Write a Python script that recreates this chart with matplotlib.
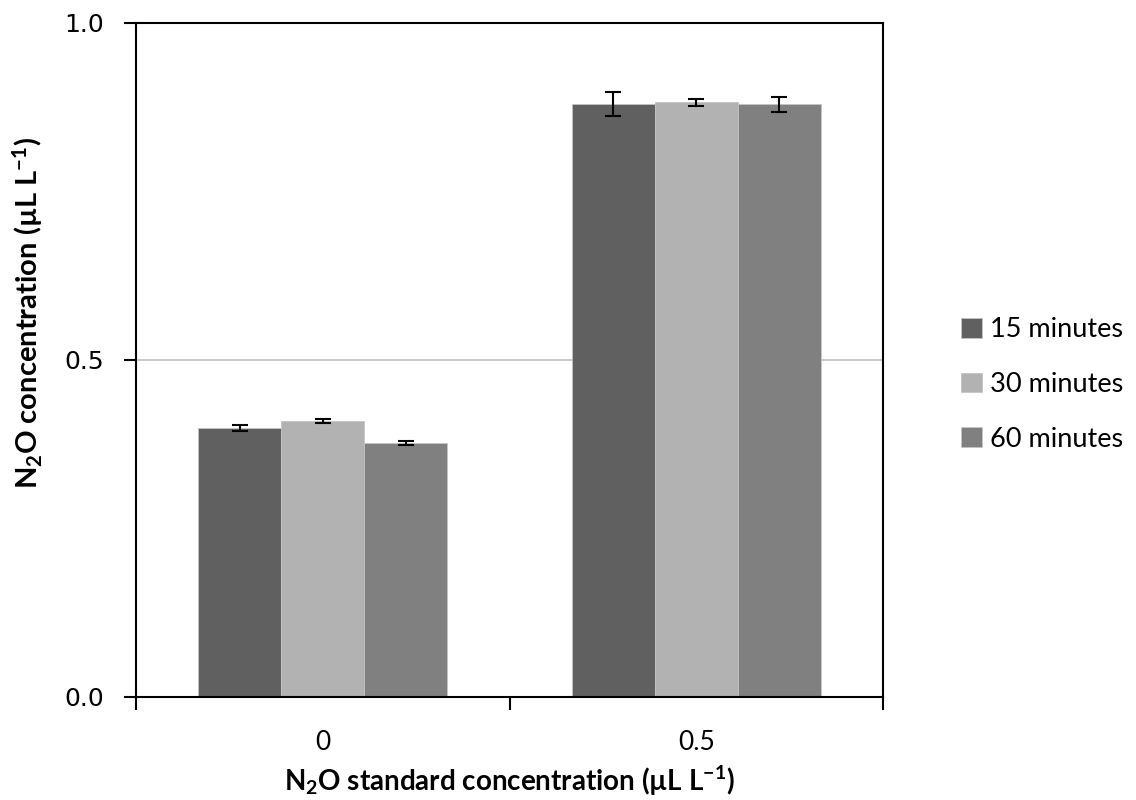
import numpy as np
import matplotlib
matplotlib.use('Agg')
import matplotlib.pyplot as plt

plt.rcParams['font.family'] = ['Lato', 'DejaVu Sans']
plt.rcParams['mathtext.default'] = 'regular'

categories = ['0', '0.5']
series = ['15 minutes', '30 minutes', '60 minutes']
values = [[0.398, 0.879],
          [0.409, 0.882],
          [0.377, 0.879]]
errors = [[0.0045, 0.018],
          [0.003, 0.005],
          [0.003, 0.011]]
colors = ['#606060', '#b2b2b2', '#808080']

fig = plt.figure(figsize=(11.36, 8), dpi=100)
ax = fig.add_axes([136/1136, 1-696.7/800, (883-136)/1136, (696.7-22.7)/800])

x = np.arange(len(categories))
w = 0.222
for i in range(3):
    ax.bar(x + (i-1)*w, values[i], w, color=colors[i], label=series[i],
           edgecolor='#c4c4c4', linewidth=0.6, zorder=2,
           yerr=errors[i], capsize=6,
           error_kw=dict(ecolor='black', elinewidth=1.5, capthick=1.5, zorder=3))

ax.set_xlim(-0.5, 1.5)
ax.set_ylim(0, 1.0)
ax.set_yticks([0, 0.5, 1.0])
ax.set_yticklabels(['0.0', '0.5', '1.0'], fontfamily='DejaVu Sans', fontsize=18)
ax.set_xticks(x)
ax.set_xticklabels(categories, fontsize=19)
ax.set_xticks([-0.5, 0.5, 1.5], minor=True)
ax.tick_params(axis='x', which='major', length=0, pad=24)
ax.tick_params(axis='x', which='minor', length=9, width=1.5)
ax.tick_params(axis='y', length=9, width=1.5, pad=14)
ax.grid(axis='y', color='#c0c0c0', linewidth=1.2, zorder=0)
ax.set_axisbelow(True)
for s in ax.spines.values():
    s.set_linewidth(1.5)

fig.text(509.5/1136, 1-781/800, r'N$_2$O standard concentration (µL L$^{-1}$)',
         fontsize=20, fontweight='bold', ha='center', va='center')
fig.text(28/1136, 1-313/800, r'N$_2$O concentration (µL L$^{-1}$)',
         fontsize=21, fontweight='bold', ha='center', va='center', rotation=90)

ax.legend(loc='center left', bbox_to_anchor=(937/1136, 1-384.5/800),
          bbox_transform=fig.transFigure, frameon=False, fontsize=19.5,
          handlelength=0.75, handleheight=0.75, handletextpad=0.3,
          labelspacing=1.1)

fig.savefig('out.png', dpi=100)
